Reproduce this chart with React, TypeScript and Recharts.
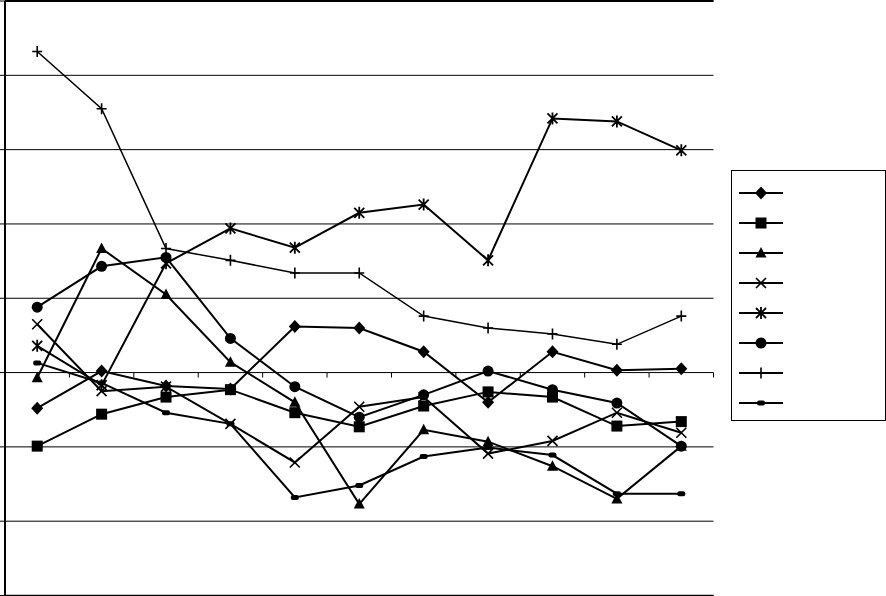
import React from "react"
import { LineChart, Line, XAxis, YAxis, CartesianGrid, Legend, ReferenceLine } from "recharts"

// eleven periods along the category axis (no labels are printed)
const periods = [1, 2, 3, 4, 5, 6, 7, 8, 9, 10, 11]

const diamondSeries = [-0.48, 0.02, -0.18, -0.22, 0.62, 0.6, 0.28, -0.4, 0.28, 0.03, 0.05]
const squareSeries = [-0.99, -0.56, -0.33, -0.23, -0.54, -0.73, -0.45, -0.26, -0.33, -0.72, -0.66]
const triangleSeries = [-0.07, 1.67, 1.05, 0.14, -0.4, -1.77, -0.77, -0.93, -1.26, -1.7, -0.99]
const crossSeries = [0.65, -0.25, -0.19, -0.69, -1.21, -0.46, -0.33, -1.09, -0.92, -0.54, -0.81]
const starSeries = [0.36, -0.17, 1.47, 1.94, 1.68, 2.15, 2.26, 1.51, 3.42, 3.38, 2.99]
const circleSeries = [0.88, 1.43, 1.55, 0.46, -0.19, -0.6, -0.3, 0.02, -0.23, -0.41, -0.99]
const plusSeries = [4.32, 3.55, 1.67, 1.51, 1.34, 1.34, 0.76, 0.6, 0.52, 0.38, 0.76]
const dashSeries = [0.13, -0.14, -0.54, -0.69, -1.68, -1.52, -1.13, -1.01, -1.11, -1.63, -1.63]

const yTicks = [-3, -2, -1, 0, 1, 2, 3, 4, 5]

const SERIES = [
  { key: "diamond", values: diamondSeries, width: 2 },
  { key: "square", values: squareSeries, width: 2 },
  { key: "triangle", values: triangleSeries, width: 2 },
  { key: "cross", values: crossSeries, width: 2 },
  { key: "star", values: starSeries, width: 2 },
  { key: "circle", values: circleSeries, width: 2 },
  { key: "plus", values: plusSeries, width: 1.5 },
  { key: "dash", values: dashSeries, width: 2 },
]

const data = periods.map((p, i) => {
  const row: Record<string, number> = { idx: i, period: p }
  SERIES.forEach((s) => {
    row[s.key] = s.values[i]
  })
  return row
})

// category boundaries, where the tick marks sit
const xTicks = [...periods.map((_, i) => i - 0.5), periods.length - 0.5]
const xDomain = [xTicks[0], xTicks[xTicks.length - 1]]

const W = 886
const H = 596
const MARGIN = { top: 1, right: 172.5, bottom: -0.5, left: 0 }
const X_AXIS_H = 1
const Y_MIN = yTicks[0]
const Y_MAX = yTicks[yTicks.length - 1]
const ZERO_Y =
  MARGIN.top +
  ((H - MARGIN.top - MARGIN.bottom - X_AXIS_H) * Y_MAX) / (Y_MAX - Y_MIN)

function Marker({ shape, cx, cy }: { shape: string; cx: number; cy: number }) {
  if (cx == null || cy == null) return null
  const s = 5
  switch (shape) {
    case "diamond":
      return (
        <polygon
          points={`${cx},${cy - 6.5} ${cx + 6},${cy} ${cx},${cy + 6.5} ${cx - 6},${cy}`}
          fill="#000"
        />
      )
    case "square":
      return <rect x={cx - 5.5} y={cy - 5.5} width={11} height={11} fill="#000" />
    case "triangle":
      return (
        <polygon
          points={`${cx},${cy - 6} ${cx + 5.5},${cy + 4.5} ${cx - 5.5},${cy + 4.5}`}
          fill="#000"
        />
      )
    case "cross":
      return (
        <path
          d={`M${cx - s},${cy - s}L${cx + s},${cy + s}M${cx + s},${cy - s}L${cx - s},${cy + s}`}
          stroke="#000"
          strokeWidth={1.6}
          fill="none"
        />
      )
    case "star":
      return (
        <path
          d={`M${cx - s},${cy - s}L${cx + s},${cy + s}M${cx + s},${cy - s}L${cx - s},${cy + s}M${cx},${cy - s - 1}L${cx},${cy + s + 1}`}
          stroke="#000"
          strokeWidth={1.8}
          fill="none"
        />
      )
    case "circle":
      return <circle cx={cx} cy={cy} r={5.5} fill="#000" />
    case "plus":
      return (
        <path
          d={`M${cx - s},${cy}L${cx + s},${cy}M${cx},${cy - s - 0.5}L${cx},${cy + s + 0.5}`}
          stroke="#000"
          strokeWidth={1.6}
          fill="none"
        />
      )
    case "dash":
      return <rect x={cx - 4} y={cy - 2.5} width={8} height={5} rx={2} fill="#000" />
    default:
      return null
  }
}

function ZeroAxisTick(props: any) {
  const { x } = props
  return <line x1={x} x2={x} y1={ZERO_Y} y2={ZERO_Y + 5} stroke="#000" strokeWidth={1} />
}

function NoLabel() {
  return <g />
}

function MarkerLegend() {
  return (
    <div
      style={{
        width: 155,
        height: 251,
        boxSizing: "border-box",
        border: "1px solid #000",
        background: "#fff",
        paddingTop: 7,
      }}
    >
      {SERIES.map((s) => (
        <svg key={s.key} width={60} height={30} style={{ display: "block" }}>
          <line x1={7} x2={51} y1={15} y2={15} stroke="#000" strokeWidth={2} />
          <Marker shape={s.key} cx={29} cy={15} />
        </svg>
      ))}
    </div>
  )
}

export default function App() {
  return (
    <div style={{ position: "fixed", left: 0, top: 0, background: "#fff" }}>
      <LineChart width={W} height={H} data={data} margin={MARGIN}>
        <CartesianGrid vertical={false} syncWithTicks stroke="#000" strokeWidth={1} />
        {/* plot frame: top and bottom edges */}
        <ReferenceLine y={Y_MAX} stroke="#000" strokeWidth={2} ifOverflow="extendDomain" />
        <ReferenceLine y={Y_MIN} stroke="#000" strokeWidth={1.5} ifOverflow="extendDomain" />
        <XAxis
          dataKey="idx"
          type="number"
          domain={xDomain}
          ticks={xTicks}
          interval={0}
          height={X_AXIS_H}
          axisLine={false}
          tickLine={false}
          tick={ZeroAxisTick}
        />
        <YAxis
          domain={[Y_MIN, Y_MAX]}
          ticks={yTicks}
          interval={0}
          width={5}
          tickSize={5}
          tick={NoLabel}
          axisLine={{ stroke: "#000", strokeWidth: 2 }}
          tickLine={{ stroke: "#000" }}
        />
        <YAxis
          yAxisId="frame"
          orientation="right"
          domain={[Y_MIN, Y_MAX]}
          width={0}
          tick={false}
          tickLine={false}
          axisLine={{ stroke: "#000", strokeWidth: 2 }}
        />
        <Legend
          layout="vertical"
          align="center"
          verticalAlign="middle"
          wrapperStyle={{ left: 731, top: 170, width: 155, height: 251 }}
          content={() => <MarkerLegend />}
        />
        {SERIES.map((s) => (
          <Line
            key={s.key}
            type="linear"
            dataKey={s.key}
            stroke="#000"
            strokeWidth={s.width}
            isAnimationActive={false}
            dot={(p: any) => <Marker key={`${s.key}-${p.index}`} shape={s.key} cx={p.cx} cy={p.cy} />}
            activeDot={false}
          />
        ))}
      </LineChart>
    </div>
  )
}
